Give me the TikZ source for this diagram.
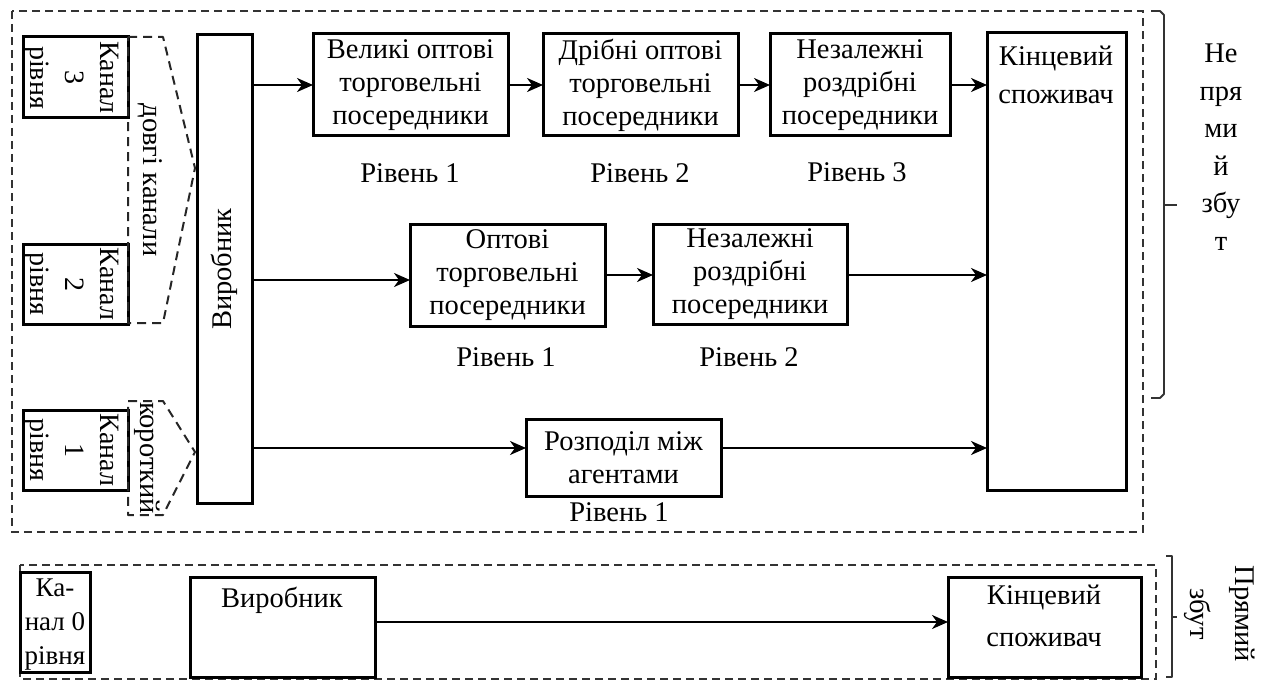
\documentclass[tikz,border=0pt]{standalone}
\usepackage{fontspec}
\setmainfont{Liberation Serif}
\usetikzlibrary{arrows.meta}
\begin{document}
\begin{tikzpicture}[x=1pt,y=-1pt,
  every node/.style={font=\fontsize{28.5}{33}\selectfont, inner sep=0pt, outer sep=0pt},
  box/.style={draw, line width=3pt, align=center},
  arr/.style={line width=2.3pt, -{Stealth[length=16pt,width=14pt,inset=5pt]}},
  lbl/.style={align=center},
  outer/.style={draw=black!80, line width=2.2pt, dash pattern=on 8pt off 5pt},
  grp/.style={draw=black!85, line width=2pt, dash pattern=on 9pt off 6pt, line join=round},
  brace/.style={draw=black!80, line width=1.8pt, line join=round}]
\useasboundingbox (0,0) rectangle (1261,682);

% ---------- upper (indirect) section ----------
\draw[outer] (12,11) rectangle (1143,532);

% channel boxes
\node[box, minimum width=105, minimum height=81] (k3) at (75.5,77.5) {};
\node[lbl, rotate=-90, font=\fontsize{28}{35}\selectfont] (k3t) at (72,77.5) {Канал\\3\\рівня};
\node[box, minimum width=105, minimum height=80] (k2) at (75.5,284) {};
\node[lbl, rotate=-90, font=\fontsize{28}{35}\selectfont] (k2t) at (72,284) {Канал\\2\\рівня};
\node[box, minimum width=105, minimum height=80] (k1) at (75.5,450) {};
\node[lbl, rotate=-90, font=\fontsize{28}{35}\selectfont] (k1t) at (72,450) {Канал\\1\\рівня};

% grouping shapes
\coordinate (d1) at (128,37);  \coordinate (d2) at (163,37);
\coordinate (d3) at (195,168); \coordinate (d4) at (163,323);
\coordinate (d5) at (128,323);
\draw[grp] (d1) -- (d2) -- (d3) -- (d4) -- (d5) -- cycle;
\node[rotate=-90] (dovgi) at (150,180) {довгі канали};

\coordinate (s1) at (128,401); \coordinate (s2) at (163,401);
\coordinate (s3) at (195,452); \coordinate (s4) at (163,515);
\coordinate (s5) at (128,515);
\draw[grp] (s1) -- (s2) -- (s3) -- (s4) -- (s5) -- cycle;
\node[rotate=-90] (korot) at (147,458) {короткий};

% producer
\node[box, minimum width=55, minimum height=468] (vyr) at (224.5,269) {};
\node[rotate=90] (vyrt) at (vyr) {Виробник};

% consumer
\node[box, minimum width=139, minimum height=457] (kin) at (1056.5,261.5) {};
\node[lbl, font=\fontsize{28.5}{38}\selectfont] (kint) at (1056,75) {Кінцевий\\споживач};

% row 1
\node[box, minimum width=195, minimum height=102] (a1) at (410.5,85) {Великі оптові\\торговельні\\посередники};
\node[box, minimum width=195, minimum height=102] (a2) at (640.5,85) {Дрібні оптові\\торговельні\\посередники};
\node[box, minimum width=180, minimum height=102] (a3) at (860,85) {Незалежні\\роздрібні\\посередники};
\node (l11) at (410,173) {Рівень 1};
\node (l12) at (640,173) {Рівень 2};
\node (l13) at (857,172) {Рівень 3};
\draw[arr] (vyr.east |- a1.west) -- (a1.west);
\draw[arr] (a1) -- (a2);
\draw[arr] (a2) -- (a3);
\draw[arr] (a3.east) -- (kin.west |- a3.east);

% row 2
\node[box, minimum width=195, minimum height=102] (b1) at (507.5,275) {Оптові\\торговельні\\посередники};
\node[box, minimum width=194, minimum height=100] (b2) at (750,274) {Незалежні\\роздрібні\\посередники};
\node (l21) at (506,357) {Рівень 1};
\node (l22) at (749,357) {Рівень 2};
\draw[arr] (vyr.east |- 0,280) -- (b1.west |- 0,280);
\draw[arr] (b1.east |- 0,275) -- (b2.west |- 0,275);
\draw[arr] (b2.east |- 0,275) -- (kin.west |- 0,275);

% row 3
\node[box, minimum width=195, minimum height=77] (c1) at (623.5,457.5) {Розподіл між\\агентами};
\node (l31) at (619,512) {Рівень 1};
\draw[arr] (vyr.east |- 0,448) -- (c1.west |- 0,448);
\draw[arr] (c1.east |- 0,448) -- (kin.west |- 0,448);

% brace and label
\draw[brace] (1151,11) -- (1160,11) -- (1164,15) -- (1164,394) -- (1160,398) -- (1151,398);
\coordinate (bt) at (1177,205);
\draw[brace] (1164,205) -- (bt);
\node[lbl, font=\fontsize{28.5}{37.5}\selectfont] (nep) at (1221,147) {Не\\пря\\ми\\й\\збу\\т};

% ---------- lower (direct) section ----------
\draw[outer] (20,565) rectangle (1156,679);
\node[box, minimum width=70, minimum height=100] (k0) at (55,622) {};
\node[lbl, font=\fontsize{27}{34}\selectfont] (k0t) at (55,625) {Ка-\\нал 0\\рівня};
\node[box, minimum width=185, minimum height=100] (pv) at (282.5,627) {};
\node (pvt) at (282,600) {Виробник};
\node[box, minimum width=193, minimum height=100] (pk) at (1044.5,627) {};
\node[lbl, font=\fontsize{28.5}{42}\selectfont] (pkt) at (1044,616) {Кінцевий\\споживач};
\draw[arr] (pv.east |- 0,622) -- (pk.west |- 0,622);

\draw[brace] (1166,556) -- (1172,556) -- (1172,677) -- (1166,677);
\coordinate (bt2) at (1177,617);
\draw[brace] (1172,617) -- (bt2);
\node[lbl, rotate=-90, font=\fontsize{28.5}{45}\selectfont] (pr) at (1220,614) {Прямий\\збут};
\end{tikzpicture}
\end{document}
